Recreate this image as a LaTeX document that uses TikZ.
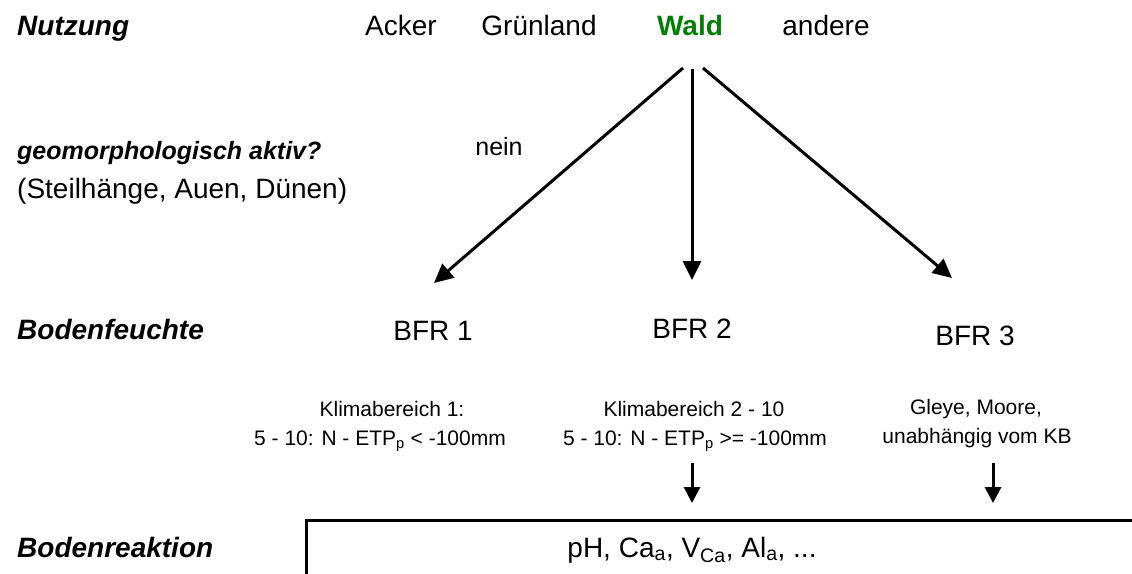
\documentclass[tikz,border=0pt]{standalone}
\usepackage{fontspec}
\setmainfont{Liberation Sans}
\usetikzlibrary{arrows.meta}
\definecolor{waldgreen}{RGB}{0,128,0}
\begin{document}
\begin{tikzpicture}[x=1pt,y=-1pt,
  lbl/.style={font=\fontsize{28}{32}\selectfont\bfseries\itshape, anchor=base west, inner sep=0pt},
  txt/.style={font=\fontsize{28}{32}\selectfont, anchor=base, inner sep=0pt},
  lefttxt/.style={font=\fontsize{28}{32}\selectfont, anchor=base west, inner sep=0pt},
  small/.style={font=\fontsize{21}{26}\selectfont, anchor=base, inner sep=0pt},
  bigarr/.style={line width=3pt, -{Triangle[length=19pt,width=18pt]}},
  smallarr/.style={line width=3pt, -{Triangle[length=16pt,width=16pt]}},
]
\useasboundingbox (0,0) rectangle (1132,573);

% left column labels
\node[lbl] (nutzung) at (17,35) {Nutzung};
\node[lbl,font=\fontsize{25}{30}\selectfont\bfseries\itshape] (geo) at (17,159) {geomorphologisch aktiv?};
\node[lefttxt] (steil) at (17,198) {(Steilhänge, Auen, Dünen)};
\node[lbl] (feuchte) at (17,339) {Bodenfeuchte};
\node[lbl] (reaktion) at (17,557) {Bodenreaktion};

% Nutzung row
\node[txt] (acker) at (401,35) {Acker};
\node[txt] (gruen) at (539,35) {Grünland};
\node[txt,font=\fontsize{28}{32}\selectfont\bfseries,text=waldgreen] (wald) at (690,35) {Wald};
\node[txt] (andere) at (826,35) {andere};

\node[txt,font=\fontsize{25}{30}\selectfont] (nein) at (499,155) {nein};

% BFR nodes
\node[txt] (bfr1) at (433,340) {BFR 1};
\node[txt] (bfr2) at (692,338) {BFR 2};
\node[txt] (bfr3) at (975,345) {BFR 3};

\node[small] (k1a) at (392,416) {Klimabereich 1:};
\node[small] (k1b) at (380,445) {5 - 10: N - ETP\textsubscript{p} < -100mm};
\node[small] (k2a) at (694,416) {Klimabereich 2 - 10};
\node[small] (k2b) at (695,445) {5 - 10: N - ETP\textsubscript{p} >= -100mm};
\node[small] (k3a) at (976,414) {Gleye, Moore,};
\node[small] (k3b) at (977,443) {unabhängig vom KB};

% arrows from Wald
\coordinate (s1) at (683,68);
\coordinate (s2) at (692,69);
\coordinate (s3) at (703,68);
\coordinate (t1) at (434,283);
\coordinate (t2) at (692,280);
\coordinate (t3) at (952,278);
\draw[bigarr] (s1) -- (t1);
\draw[bigarr] (s2) -- (t2);
\draw[bigarr] (s3) -- (t3);

% small arrows
\coordinate (u2) at (692,463);
\coordinate (v2) at (692,503);
\coordinate (u3) at (993,463);
\coordinate (v3) at (993,503);
\draw[smallarr] (u2) -- (v2);
\draw[smallarr] (u3) -- (v3);

% Bodenreaktion box
\coordinate (bl) at (306,575);
\coordinate (tl) at (306,520);
\coordinate (tr) at (1134,520);
\draw[line width=3pt] (bl) -- (tl) -- (tr);
\node[txt] (ph) at (692,557) {pH, Ca\textsubscript{a}, V\textsubscript{Ca}, Al\textsubscript{a}, ...};
\end{tikzpicture}
\end{document}
